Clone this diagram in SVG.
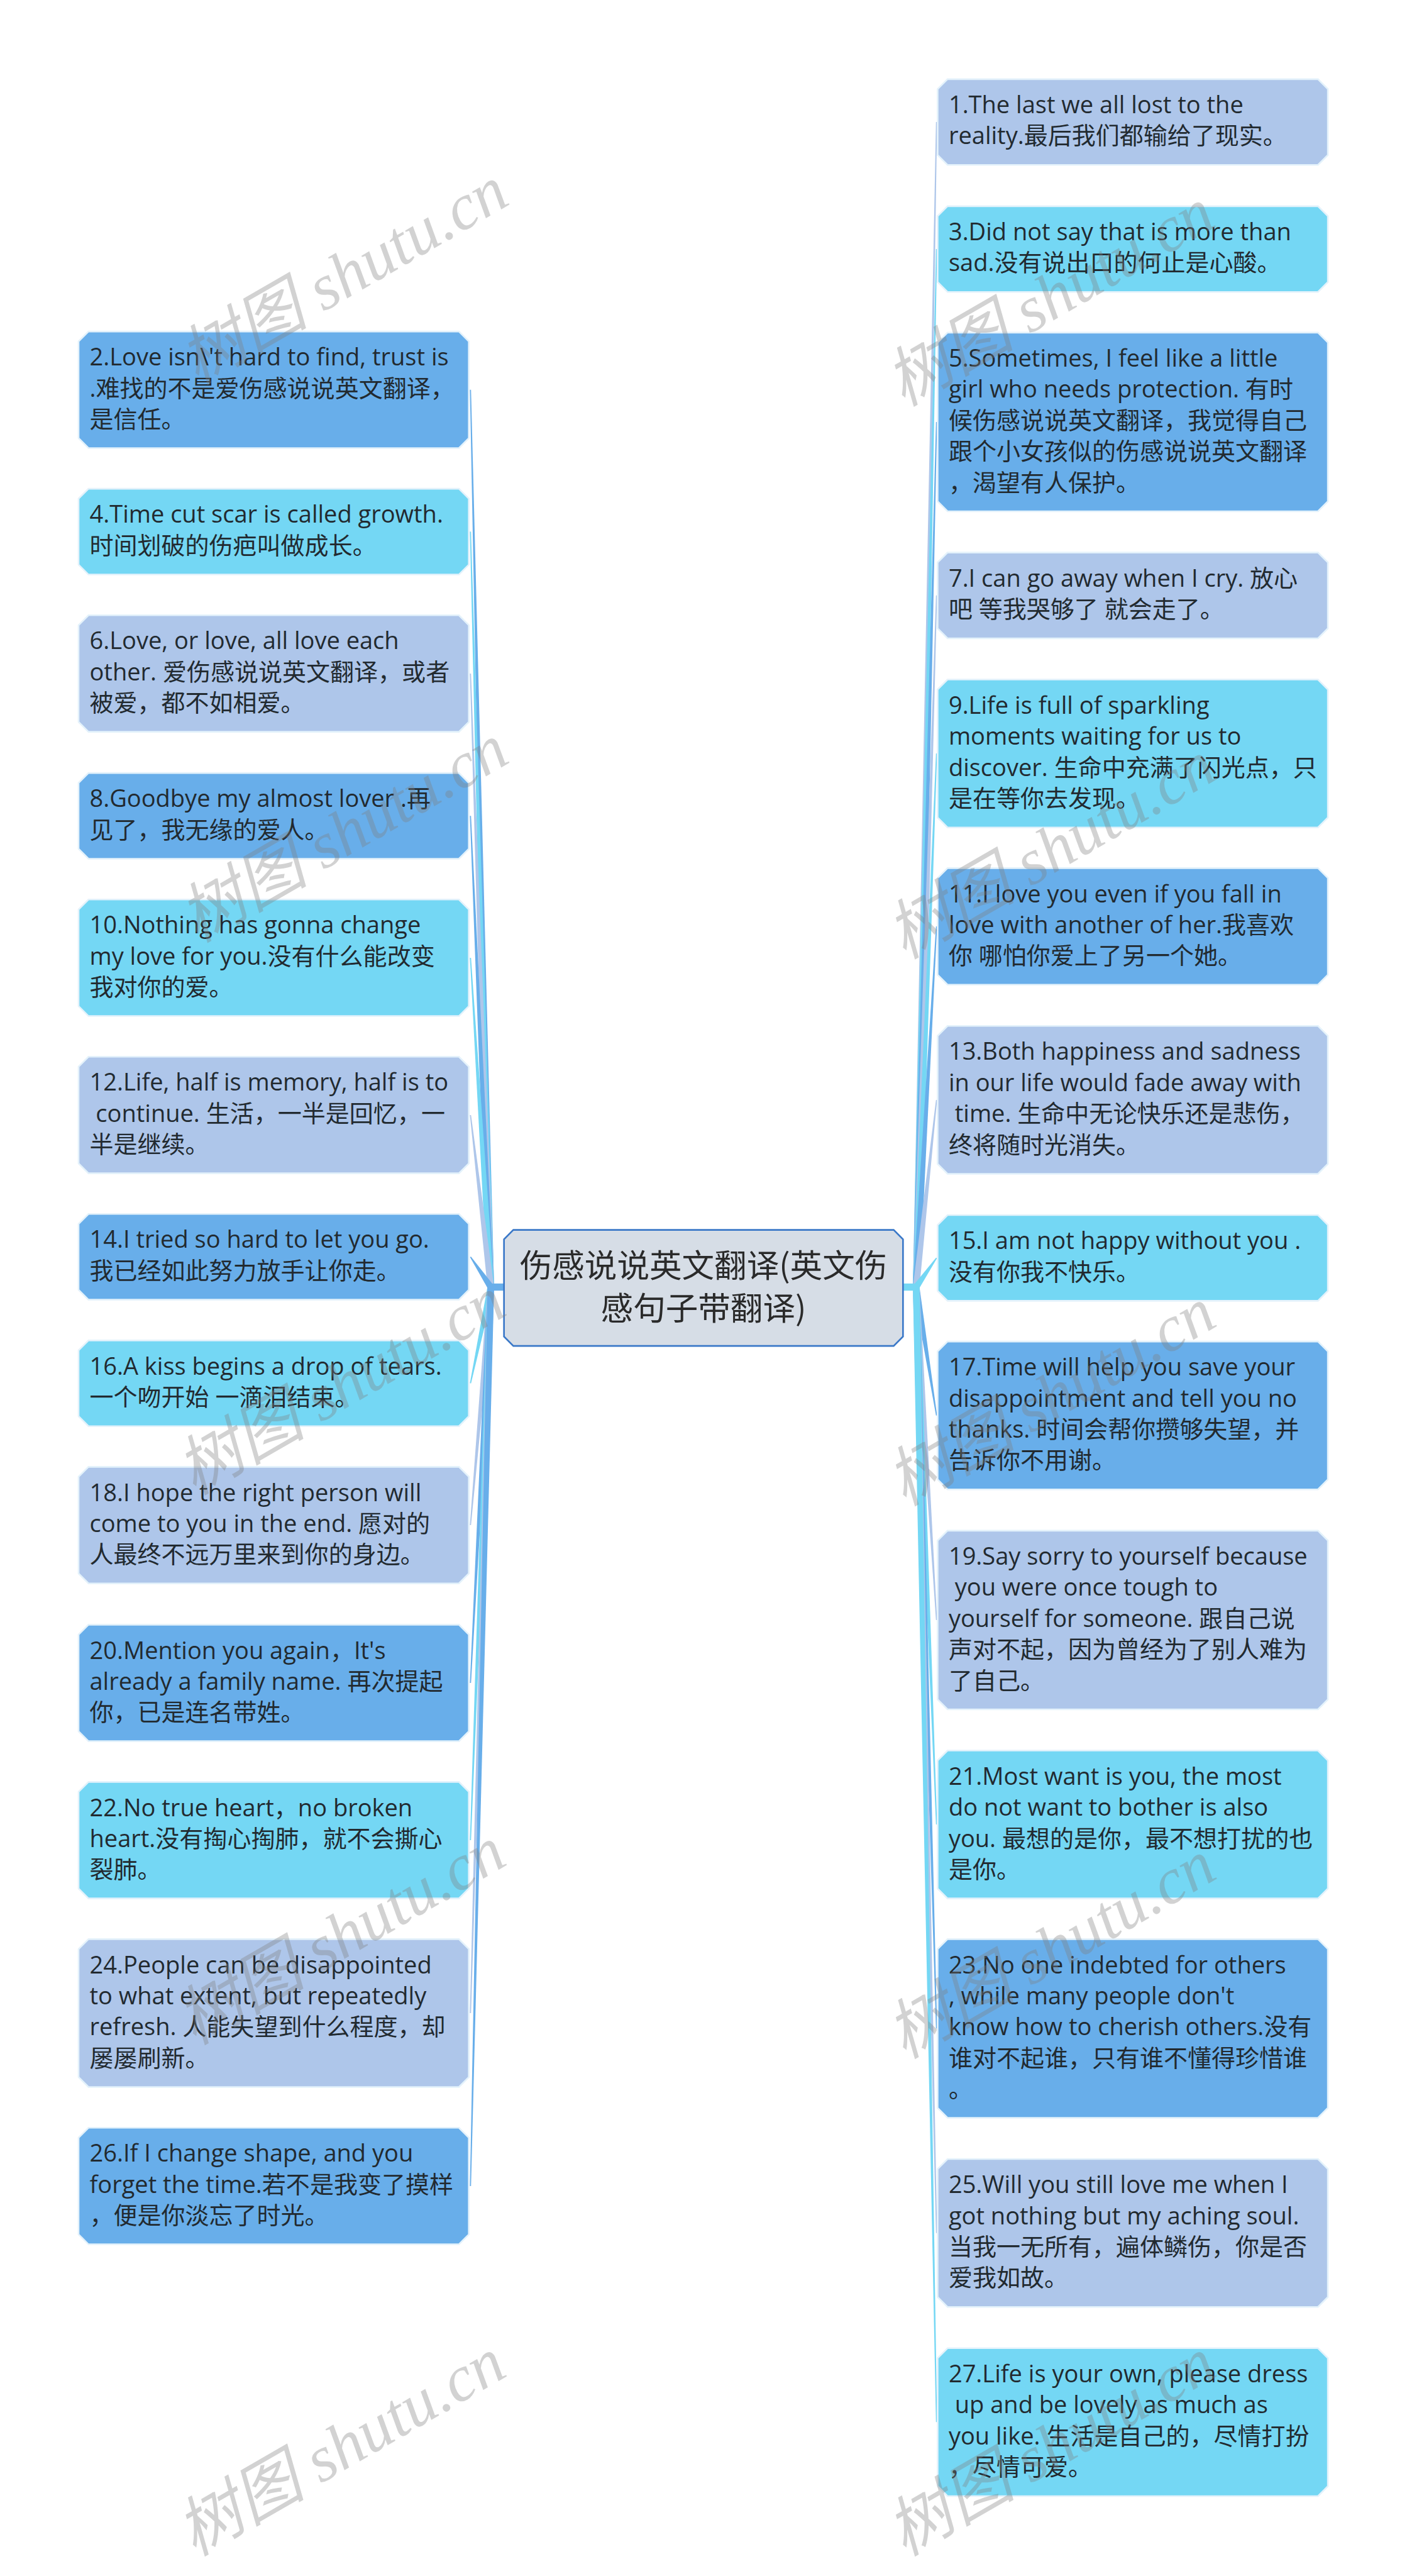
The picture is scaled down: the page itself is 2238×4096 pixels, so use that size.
<svg xmlns="http://www.w3.org/2000/svg" width="2238" height="4096" viewBox="0 0 2238 4096">
<defs>
<style>
.lav{fill:#aec6ea}
.blu{fill:#68aeea}
.cya{fill:#74d7f4}
.nd{stroke:#e4f2fb;stroke-width:3}
.t{font-family:"Open Sans","Noto Sans CJK SC",sans-serif;font-size:43.5px;fill:#222a30;white-space:pre}
.c{font-family:"Noto Sans CJK SC",sans-serif;font-size:59px;fill:#2a2a2a;text-anchor:middle}
.wm{font-family:"Liberation Serif","Noto Sans CJK SC",serif;font-style:italic;font-size:118px;fill:#808080;opacity:0.35;text-anchor:middle}
</style>
<path id="n2" d="M18,0 H692 L710,18 V138 L692,156 H18 L0,138 V18 Z"/>
<path id="n3" d="M18,0 H692 L710,18 V194 L692,212 H18 L0,194 V18 Z"/>
<path id="n4" d="M18,0 H692 L710,18 V251 L692,269 H18 L0,251 V18 Z"/>
<path id="n5" d="M18,0 H692 L710,18 V307 L692,325 H18 L0,307 V18 Z"/>
</defs>
<rect width="2238" height="4096" fill="#ffffff"/>
<g transform="scale(0.874219)">
<g id="connectors">
<polygon class="blu" points="887,2341 855,709 857,709 899,2341"/>
<polygon class="cya" points="887,2341 855,967 857,967 899,2341"/>
<polygon class="lav" points="887,2341 855,1225 857,1225 899,2341"/>
<polygon class="blu" points="887,2341 855,1484 857,1484 899,2341"/>
<polygon class="cya" points="887,2341 855,1742 857,1742 899,2341"/>
<polygon class="lav" points="887,2341 855,2028 857,2028 899,2341"/>
<polygon class="cya" points="887.1,2339.8 855,2515.8 857,2516.2 898.9,2342.2"/>
<polygon class="lav" points="887,2341 855,2774 857,2774 899,2341"/>
<polygon class="blu" points="887,2341 855,3061 857,3061 899,2341"/>
<polygon class="cya" points="887,2341 855,3347 857,3347 899,2341"/>
<polygon class="lav" points="887,2341 855,3661.5 857,3661.5 899,2341"/>
<polygon class="blu" points="887,2341 855,3976 857,3976 899,2341"/>
<polygon class="blu" points="898,2337.7 856.8,2285.4 855.2,2286.6 888,2344.4"/>
<rect class="blu" x="887" y="2334.5" width="30" height="13"/>
<polygon class="lav" points="1661,2341 1703,222 1705,222 1673,2341"/>
<polygon class="cya" points="1661,2341 1703,453 1705,453 1673,2341"/>
<polygon class="blu" points="1661,2341 1703,767.5 1705,767.5 1673,2341"/>
<polygon class="lav" points="1661,2341 1703,1083 1705,1083 1673,2341"/>
<polygon class="cya" points="1661,2341 1703,1370.5 1705,1370.5 1673,2341"/>
<polygon class="blu" points="1661,2341 1703,1685 1705,1685 1673,2341"/>
<polygon class="lav" points="1661,2341 1703,2000.5 1705,2000.5 1673,2341"/>
<polygon class="blu" points="1661,2341 1703,2574.5 1705,2574.5 1673,2341"/>
<polygon class="lav" points="1661,2341 1703,2946.5 1705,2946.5 1673,2341"/>
<polygon class="cya" points="1661,2341 1703,3318.5 1705,3318.5 1673,2341"/>
<polygon class="blu" points="1661,2341 1703,3689.5 1705,3689.5 1673,2341"/>
<polygon class="lav" points="1661,2341 1703,4061.5 1705,4061.5 1673,2341"/>
<polygon class="cya" points="1661,2341 1703,4405.5 1705,4405.5 1673,2341"/>
<polygon class="cya" points="1662.1,2337.6 1703.2,2287.4 1704.8,2288.6 1671.9,2344.4"/>
<rect class="cya" x="1643" y="2334.5" width="30" height="13"/>
</g>
<g id="center">
<path d="M934,2237 H1626 L1643,2254 V2431 L1626,2448 H934 L917,2431 V2254 Z" fill="#d6dde6" stroke="#3a78c8" stroke-width="3"/>
<text class="c"><tspan x="1280" y="2323">伤感说说英文翻译(英文伤</tspan><tspan x="1280" y="2401">感句子带翻译)</tspan></text>
</g>
<g id="node-1"><use href="#n2" x="1706" y="144" class="lav nd"/><text class="t"><tspan x="1726" y="206">1.The last we all lost to the</tspan><tspan x="1726" y="262.5">reality.最后我们都输给了现实。</tspan></text></g>
<g id="node-3"><use href="#n2" x="1706" y="375" class="cya nd"/><text class="t"><tspan x="1726" y="437">3.Did not say that is more than</tspan><tspan x="1726" y="493.5">sad.没有说出口的何止是心酸。</tspan></text></g>
<g id="node-5"><use href="#n5" x="1706" y="605" class="blu nd"/><text class="t"><tspan x="1726" y="667">5.Sometimes, I feel like a little</tspan><tspan x="1726" y="723.5">girl who needs protection. 有时</tspan><tspan x="1726" y="780">候伤感说说英文翻译，我觉得自己</tspan><tspan x="1726" y="836.5">跟个小女孩似的伤感说说英文翻译</tspan><tspan x="1726" y="893">，渴望有人保护。</tspan></text></g>
<g id="node-7"><use href="#n2" x="1706" y="1005" class="lav nd"/><text class="t"><tspan x="1726" y="1067">7.I can go away when I cry. 放心</tspan><tspan x="1726" y="1123.5">吧 等我哭够了 就会走了。</tspan></text></g>
<g id="node-9"><use href="#n4" x="1706" y="1236" class="cya nd"/><text class="t"><tspan x="1726" y="1298">9.Life is full of sparkling</tspan><tspan x="1726" y="1354.5">moments waiting for us to</tspan><tspan x="1726" y="1411">discover. 生命中充满了闪光点，只</tspan><tspan x="1726" y="1467.5">是在等你去发现。</tspan></text></g>
<g id="node-11"><use href="#n3" x="1706" y="1579" class="blu nd"/><text class="t"><tspan x="1726" y="1641">11.I love you even if you fall in</tspan><tspan x="1726" y="1697.5">love with another of her.我喜欢</tspan><tspan x="1726" y="1754">你 哪怕你爱上了另一个她。</tspan></text></g>
<g id="node-13"><use href="#n4" x="1706" y="1866" class="lav nd"/><text class="t"><tspan x="1726" y="1928">13.Both happiness and sadness</tspan><tspan x="1726" y="1984.5">in our life would fade away with</tspan><tspan x="1726" y="2041"> time. 生命中无论快乐还是悲伤，</tspan><tspan x="1726" y="2097.5">终将随时光消失。</tspan></text></g>
<g id="node-15"><use href="#n2" x="1706" y="2210" class="cya nd"/><text class="t"><tspan x="1726" y="2272">15.I am not happy without you .</tspan><tspan x="1726" y="2328.5">没有你我不快乐。</tspan></text></g>
<g id="node-17"><use href="#n4" x="1706" y="2440" class="blu nd"/><text class="t"><tspan x="1726" y="2502">17.Time will help you save your</tspan><tspan x="1726" y="2558.5">disappointment and tell you no</tspan><tspan x="1726" y="2615">thanks. 时间会帮你攒够失望，并</tspan><tspan x="1726" y="2671.5">告诉你不用谢。</tspan></text></g>
<g id="node-19"><use href="#n5" x="1706" y="2784" class="lav nd"/><text class="t"><tspan x="1726" y="2846">19.Say sorry to yourself because</tspan><tspan x="1726" y="2902.5"> you were once tough to</tspan><tspan x="1726" y="2959">yourself for someone. 跟自己说</tspan><tspan x="1726" y="3015.5">声对不起，因为曾经为了别人难为</tspan><tspan x="1726" y="3072">了自己。</tspan></text></g>
<g id="node-21"><use href="#n4" x="1706" y="3184" class="cya nd"/><text class="t"><tspan x="1726" y="3246">21.Most want is you, the most</tspan><tspan x="1726" y="3302.5">do not want to bother is also</tspan><tspan x="1726" y="3359">you. 最想的是你，最不想打扰的也</tspan><tspan x="1726" y="3415.5">是你。</tspan></text></g>
<g id="node-23"><use href="#n5" x="1706" y="3527" class="blu nd"/><text class="t"><tspan x="1726" y="3589">23.No one indebted for others</tspan><tspan x="1726" y="3645.5">, while many people don't</tspan><tspan x="1726" y="3702">know how to cherish others.没有</tspan><tspan x="1726" y="3758.5">谁对不起谁，只有谁不懂得珍惜谁</tspan><tspan x="1726" y="3815">。</tspan></text></g>
<g id="node-25"><use href="#n4" x="1706" y="3927" class="lav nd"/><text class="t"><tspan x="1726" y="3989">25.Will you still love me when I</tspan><tspan x="1726" y="4045.5">got nothing but my aching soul.</tspan><tspan x="1726" y="4102">当我一无所有，遍体鳞伤，你是否</tspan><tspan x="1726" y="4158.5">爱我如故。</tspan></text></g>
<g id="node-27"><use href="#n4" x="1706" y="4271" class="cya nd"/><text class="t"><tspan x="1726" y="4333">27.Life is your own, please dress</tspan><tspan x="1726" y="4389.5"> up and be lovely as much as</tspan><tspan x="1726" y="4446">you like. 生活是自己的，尽情打扮</tspan><tspan x="1726" y="4502.5">，尽情可爱。</tspan></text></g>
<g id="node-2"><use href="#n3" x="143" y="603" class="blu nd"/><text class="t"><tspan x="163" y="665">2.Love isn\'t hard to find, trust is</tspan><tspan x="163" y="721.5">.难找的不是爱伤感说说英文翻译，</tspan><tspan x="163" y="778">是信任。</tspan></text></g>
<g id="node-4"><use href="#n2" x="143" y="889" class="cya nd"/><text class="t"><tspan x="163" y="951">4.Time cut scar is called growth.</tspan><tspan x="163" y="1007.5">时间划破的伤疤叫做成长。</tspan></text></g>
<g id="node-6"><use href="#n3" x="143" y="1119" class="lav nd"/><text class="t"><tspan x="163" y="1181">6.Love, or love, all love each</tspan><tspan x="163" y="1237.5">other. 爱伤感说说英文翻译，或者</tspan><tspan x="163" y="1294">被爱，都不如相爱。</tspan></text></g>
<g id="node-8"><use href="#n2" x="143" y="1406" class="blu nd"/><text class="t"><tspan x="163" y="1468">8.Goodbye my almost lover .再</tspan><tspan x="163" y="1524.5">见了，我无缘的爱人。</tspan></text></g>
<g id="node-10"><use href="#n3" x="143" y="1636" class="cya nd"/><text class="t"><tspan x="163" y="1698">10.Nothing has gonna change</tspan><tspan x="163" y="1754.5">my love for you.没有什么能改变</tspan><tspan x="163" y="1811">我对你的爱。</tspan></text></g>
<g id="node-12"><use href="#n3" x="143" y="1922" class="lav nd"/><text class="t"><tspan x="163" y="1984">12.Life, half is memory, half is to</tspan><tspan x="163" y="2040.5"> continue. 生活，一半是回忆，一</tspan><tspan x="163" y="2097">半是继续。</tspan></text></g>
<g id="node-14"><use href="#n2" x="143" y="2208" class="blu nd"/><text class="t"><tspan x="163" y="2270">14.I tried so hard to let you go.</tspan><tspan x="163" y="2326.5">我已经如此努力放手让你走。</tspan></text></g>
<g id="node-16"><use href="#n2" x="143" y="2438" class="cya nd"/><text class="t"><tspan x="163" y="2500">16.A kiss begins a drop of tears.</tspan><tspan x="163" y="2556.5">一个吻开始 一滴泪结束。</tspan></text></g>
<g id="node-18"><use href="#n3" x="143" y="2668" class="lav nd"/><text class="t"><tspan x="163" y="2730">18.I hope the right person will</tspan><tspan x="163" y="2786.5">come to you in the end. 愿对的</tspan><tspan x="163" y="2843">人最终不远万里来到你的身边。</tspan></text></g>
<g id="node-20"><use href="#n3" x="143" y="2955" class="blu nd"/><text class="t"><tspan x="163" y="3017">20.Mention you again，It's</tspan><tspan x="163" y="3073.5">already a family name. 再次提起</tspan><tspan x="163" y="3130">你，已是连名带姓。</tspan></text></g>
<g id="node-22"><use href="#n3" x="143" y="3241" class="cya nd"/><text class="t"><tspan x="163" y="3303">22.No true heart，no broken</tspan><tspan x="163" y="3359.5">heart.没有掏心掏肺，就不会撕心</tspan><tspan x="163" y="3416">裂肺。</tspan></text></g>
<g id="node-24"><use href="#n4" x="143" y="3527" class="lav nd"/><text class="t"><tspan x="163" y="3589">24.People can be disappointed</tspan><tspan x="163" y="3645.5">to what extent, but repeatedly</tspan><tspan x="163" y="3702">refresh. 人能失望到什么程度，却</tspan><tspan x="163" y="3758.5">屡屡刷新。</tspan></text></g>
<g id="node-26"><use href="#n3" x="143" y="3870" class="blu nd"/><text class="t"><tspan x="163" y="3932">26.If I change shape, and you</tspan><tspan x="163" y="3988.5">forget the time.若不是我变了摸样</tspan><tspan x="163" y="4045">，便是你淡忘了时光。</tspan></text></g>
<g id="watermarks">
<text class="wm" transform="translate(645,535) rotate(-30)">树图 shutu.cn</text>
<text class="wm" transform="translate(645,1550) rotate(-30)">树图 shutu.cn</text>
<text class="wm" transform="translate(640,2555) rotate(-30)">树图 shutu.cn</text>
<text class="wm" transform="translate(640,3555) rotate(-30)">树图 shutu.cn</text>
<text class="wm" transform="translate(640,4485) rotate(-30)">树图 shutu.cn</text>
<text class="wm" transform="translate(1930,575) rotate(-30)">树图 shutu.cn</text>
<text class="wm" transform="translate(1932,1580) rotate(-30)">树图 shutu.cn</text>
<text class="wm" transform="translate(1932,2575) rotate(-30)">树图 shutu.cn</text>
<text class="wm" transform="translate(1932,3580) rotate(-30)">树图 shutu.cn</text>
<text class="wm" transform="translate(1932,4485) rotate(-30)">树图 shutu.cn</text>
</g>
</g>
</svg>
